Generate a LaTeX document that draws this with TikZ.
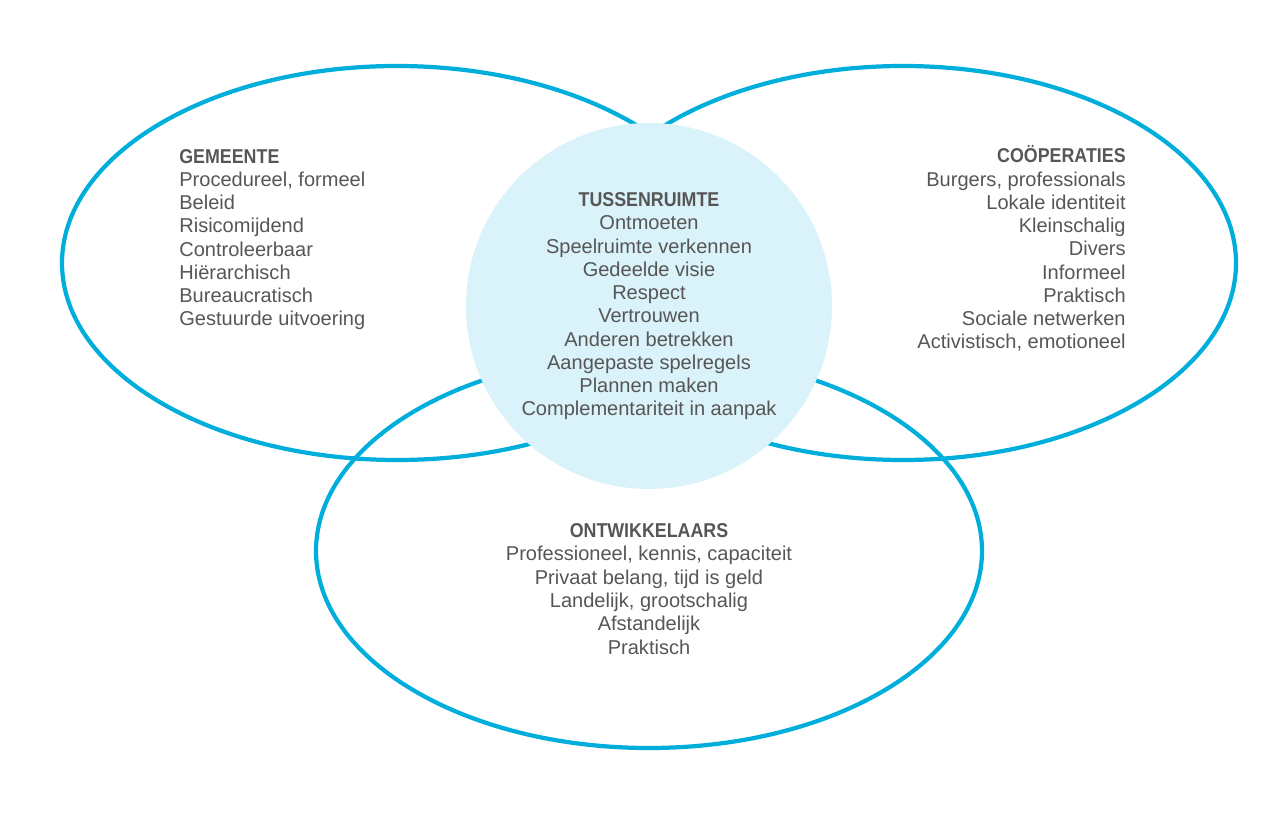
\documentclass[tikz,border=0pt]{standalone}
\usepackage{fontspec}
\setmainfont{Liberation Sans}
\definecolor{vennblue}{HTML}{00AEDB}
\definecolor{vennfill}{HTML}{DAF2F9}
\definecolor{venntext}{HTML}{565656}
\newcommand{\kop}[1]{\scalebox{0.89}[1]{\textbf{#1}}}
\tikzset{
  ring/.style={draw=vennblue, line width=2.4pt},
  kern/.style={fill=vennfill},
  lijst/.style={inner sep=0pt, text=venntext,
    font=\fontsize{11.4}{13.25}\selectfont}
}
\begin{document}
\begin{tikzpicture}[x=0.02cm, y=-0.02cm]
                \useasboundingbox (0,0) rectangle (1280,813);

                \draw[ring] (397,263) ellipse [x radius=335, y radius=197];
                \draw[ring] (903,263) ellipse [x radius=333, y radius=197];
                \draw[ring] (649,551) ellipse [x radius=333, y radius=197];
                \fill[kern] (649,306) circle [radius=183];

                % base = baseline of the last line
                \node[lijst, anchor=base west, align=left] (gemeente)
                    at (179,326) {\kop{GEMEENTE}\\Procedureel, formeel\\Beleid\\Risicomijdend\\Controleerbaar\\Hi\"erarchisch\\Bureaucratisch\\Gestuurde uitvoering};
                \node[lijst, anchor=base east, align=right] (cooperaties)
                    at (1126,349) {\kop{CO\"OPERATIES}\\Burgers, professionals\\Lokale identiteit\\Kleinschalig\\Divers\\Informeel\\Praktisch\\Sociale netwerken\\Activistisch, emotioneel};
                \node[lijst, anchor=base, align=center] (tussenruimte)
                    at (649,416) {\kop{TUSSENRUIMTE}\\Ontmoeten\\Speelruimte verkennen\\Gedeelde visie\\Respect\\Vertrouwen\\Anderen betrekken\\Aangepaste spelregels\\Plannen maken\\Complementariteit in aanpak};
                \node[lijst, anchor=base, align=center] (ontwikkelaars)
                    at (649,654) {\kop{ONTWIKKELAARS}\\Professioneel, kennis, capaciteit\\Privaat belang, tijd is geld\\Landelijk, grootschalig\\Afstandelijk\\Praktisch};
\end{tikzpicture}
\end{document}
